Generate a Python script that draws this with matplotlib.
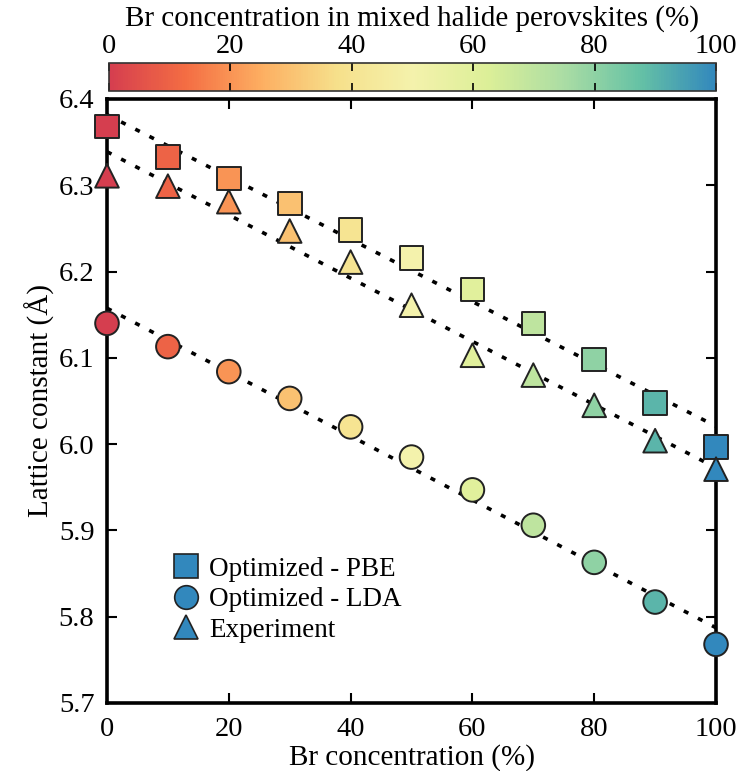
import numpy as np
import matplotlib
matplotlib.use("Agg")
import matplotlib.pyplot as plt
from matplotlib.colors import LinearSegmentedColormap, Normalize
from matplotlib.cm import ScalarMappable
from matplotlib.lines import Line2D

plt.rcParams['font.family'] = ['Liberation Serif', 'DejaVu Serif']

# ---- data ----
br = [0, 10, 20, 30, 40, 50, 60, 70, 80, 90, 100]
pbe = [6.368, 6.333, 6.308, 6.279, 6.248, 6.216, 6.179, 6.140, 6.098, 6.048, 5.997]
lda = [6.140, 6.113, 6.084, 6.053, 6.020, 5.985, 5.947, 5.906, 5.863, 5.817, 5.768]
exp = [6.311, 6.299, 6.281, 6.247, 6.211, 6.161, 6.103, 6.080, 6.045, 6.004, 5.971]
labels = ["Optimized - PBE", "Optimized - LDA", "Experiment"]
xticks = [0, 20, 40, 60, 80, 100]
yticks = [5.7, 5.8, 5.9, 6.0, 6.1, 6.2, 6.3, 6.4]

spectral9 = ["#d53e4f", "#f46d43", "#fdae61", "#f6e08b", "#f4f2ac",
             "#dcef98", "#abdda4", "#66c2a5", "#3288bd"]
cmap = LinearSegmentedColormap.from_list("spec9", spectral9)
norm = Normalize(0, 100)

fig = plt.figure(figsize=(7.43, 7.71), dpi=100)
ax = fig.add_axes([0.144, 0.0882, 0.8197, 0.7834])

xfit = np.array([0, 100])
for y in [pbe, exp, lda]:
    p = np.polyfit(br, y, 1)
    ax.plot(xfit, np.polyval(p, xfit), color='black', lw=2.6,
            linestyle=(0, (1.4, 3.0)), zorder=2)

ms = 17
for y, mk in [(pbe, 's'), (lda, 'o'), (exp, '^')]:
    ax.scatter(br, y, s=ms**2, marker=mk, c=br, cmap=cmap, norm=norm,
               edgecolors='#222222', linewidths=1.4,
               zorder=3, clip_on=False)

ax.set_xlim(0, 100)
ax.set_ylim(5.7, 6.4)
ax.set_xticks(xticks)
ax.set_yticks(yticks)
ax.set_yticklabels([f"{v:.1f}" for v in yticks])
ax.tick_params(direction='in', length=7, width=1.5, top=True, right=True,
               labelsize=20.5)
ax.tick_params(axis='x', pad=10)
ax.tick_params(axis='y', pad=9)
for s in ax.spines.values():
    s.set_linewidth(2.6)
ax.set_xlabel("Br concentration (%)", fontsize=21, labelpad=1.5)
ax.set_ylabel("Lattice constant (Å)", fontsize=21, labelpad=3)

lc = cmap(1.0)
handles = [Line2D([], [], marker=m, linestyle='none', markersize=ms,
                  markerfacecolor=lc, markeredgecolor='#222222',
                  markeredgewidth=1.2)
           for m in ['s', 'o', '^']]
ax.legend(handles, labels, loc='lower left', bbox_to_anchor=(0.09, 0.082),
          frameon=False, fontsize=19.5, handlelength=1.0, handletextpad=0.35,
          labelspacing=0.2, borderaxespad=0)

cax = fig.add_axes([0.1464, 0.882, 0.8173, 0.036])
sm = ScalarMappable(norm=norm, cmap=cmap)
cb = fig.colorbar(sm, cax=cax, orientation='horizontal')
cb.set_ticks(xticks)
cb.outline.set_linewidth(1.2)
cb.outline.set_edgecolor('#333333')
cax.xaxis.set_ticks_position('both')
cax.tick_params(direction='in', length=6, width=1.2, top=True, bottom=True,
                labeltop=True, labelbottom=False, labelsize=20.5, pad=3)
cax.xaxis.set_label_position('top')
cax.set_xlabel("Br concentration in mixed halide perovskites (%)",
               fontsize=21, labelpad=6)

fig.savefig("out.png", dpi=100)
